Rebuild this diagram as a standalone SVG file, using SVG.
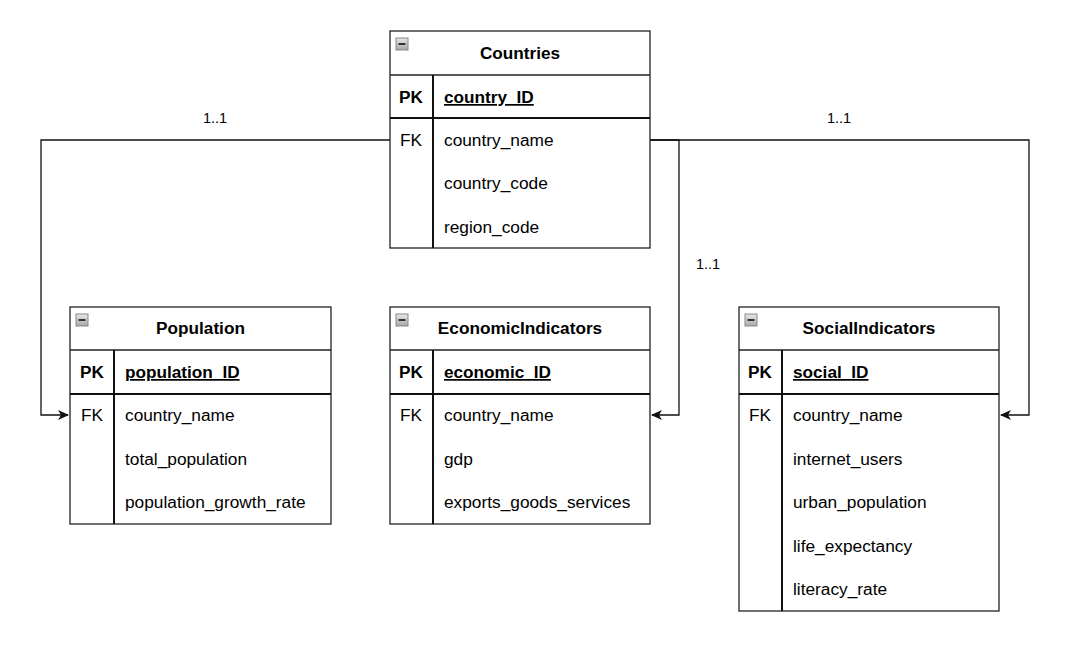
<svg xmlns="http://www.w3.org/2000/svg" width="1074" height="646" viewBox="0 0 1074 646">
<style>
.box{fill:#fff;stroke:#222;stroke-width:1.3}
.sep{stroke:#222;stroke-width:1.3;fill:none}
.sep2{stroke:#111;stroke-width:2;fill:none}
.title{font-family:"Liberation Sans",Arial,sans-serif;font-size:17.2px;font-weight:bold;fill:#000;text-anchor:middle}
.key{font-family:"Liberation Sans",Arial,sans-serif;font-size:17.2px;font-weight:bold;fill:#000;text-anchor:middle}
.fk{font-family:"Liberation Sans",Arial,sans-serif;font-size:17.3px;fill:#000;text-anchor:middle}
.pkf{font-family:"Liberation Sans",Arial,sans-serif;font-size:17.2px;font-weight:bold;fill:#000;text-decoration:underline}
.fld{font-family:"Liberation Sans",Arial,sans-serif;font-size:17.3px;fill:#000}
.lbl{font-family:"Liberation Sans",Arial,sans-serif;font-size:14.5px;fill:#000;text-anchor:middle}
.conn{stroke:#111;stroke-width:1.3;fill:none}
</style>
<defs>
<linearGradient id="ig" x1="0" y1="0" x2="0" y2="1"><stop offset="0" stop-color="#e8e8e8"/><stop offset="1" stop-color="#a8a8a8"/></linearGradient>
<g id="icon"><rect x="0" y="0" width="12" height="12" fill="url(#ig)" stroke="#888" stroke-width="1"/><line x1="2.5" y1="6" x2="9.5" y2="6" stroke="#222" stroke-width="1.8"/></g>
<marker id="arr" markerWidth="12" markerHeight="10" refX="10" refY="5" orient="auto" markerUnits="userSpaceOnUse"><path d="M0,0 L11,5 L0,10 L3,5 z" fill="#111"/></marker>
</defs>
<rect width="1074" height="646" fill="#fff"/>

<g id="connectors">
<polyline class="conn" points="390,140 41,140 41,415 68,415" marker-end="url(#arr)"/>
<polyline class="conn" points="650,140 1029,140 1029,415 1001,415" marker-end="url(#arr)"/>
<polyline class="conn" points="650,140 679,140 679,415 652,415" marker-end="url(#arr)"/>
<text class="lbl" x="215" y="123">1..1</text>
<text class="lbl" x="839" y="123">1..1</text>
<text class="lbl" x="708" y="269">1..1</text>
</g>

<g id="countries">
<rect class="box" x="390" y="31" width="260" height="217"/>
<use href="#icon" x="396" y="38"/>
<text class="title" x="520" y="59">Countries</text>
<line class="sep" x1="390" y1="75" x2="650" y2="75"/>
<line class="sep2" x1="390" y1="118" x2="650" y2="118"/>
<line class="sep2" x1="433" y1="75" x2="433" y2="248"/>
<text class="key" x="411" y="103">PK</text>
<text class="pkf" x="444" y="103">country_ID</text>
<text class="fk" x="411" y="146">FK</text>
<text class="fld" x="444" y="146">country_name</text>
<text class="fld" x="444" y="189">country_code</text>
<text class="fld" x="444" y="233">region_code</text>
</g>

<g id="population">
<rect class="box" x="70" y="307" width="261" height="217"/>
<use href="#icon" x="76" y="314"/>
<text class="title" x="200.5" y="334">Population</text>
<line class="sep" x1="70" y1="350" x2="331" y2="350"/>
<line class="sep2" x1="70" y1="394" x2="331" y2="394"/>
<line class="sep2" x1="114" y1="350" x2="114" y2="524"/>
<text class="key" x="92" y="378">PK</text>
<text class="pkf" x="125" y="378">population_ID</text>
<text class="fk" x="92" y="421">FK</text>
<text class="fld" x="125" y="421">country_name</text>
<text class="fld" x="125" y="465">total_population</text>
<text class="fld" x="125" y="508">population_growth_rate</text>
</g>

<g id="economic">
<rect class="box" x="390" y="307" width="260" height="217"/>
<use href="#icon" x="396" y="314"/>
<text class="title" x="520" y="334">EconomicIndicators</text>
<line class="sep" x1="390" y1="350" x2="650" y2="350"/>
<line class="sep2" x1="390" y1="394" x2="650" y2="394"/>
<line class="sep2" x1="433" y1="350" x2="433" y2="524"/>
<text class="key" x="411" y="378">PK</text>
<text class="pkf" x="444" y="378">economic_ID</text>
<text class="fk" x="411" y="421">FK</text>
<text class="fld" x="444" y="421">country_name</text>
<text class="fld" x="444" y="465">gdp</text>
<text class="fld" x="444" y="508">exports_goods_services</text>
</g>

<g id="social">
<rect class="box" x="739" y="307" width="260" height="304"/>
<use href="#icon" x="745" y="314"/>
<text class="title" x="869" y="334">SocialIndicators</text>
<line class="sep" x1="739" y1="350" x2="999" y2="350"/>
<line class="sep2" x1="739" y1="394" x2="999" y2="394"/>
<line class="sep2" x1="782" y1="350" x2="782" y2="611"/>
<text class="key" x="760" y="378">PK</text>
<text class="pkf" x="793" y="378">social_ID</text>
<text class="fk" x="760" y="421">FK</text>
<text class="fld" x="793" y="421">country_name</text>
<text class="fld" x="793" y="465">internet_users</text>
<text class="fld" x="793" y="508">urban_population</text>
<text class="fld" x="793" y="552">life_expectancy</text>
<text class="fld" x="793" y="595">literacy_rate</text>
</g>
</svg>
